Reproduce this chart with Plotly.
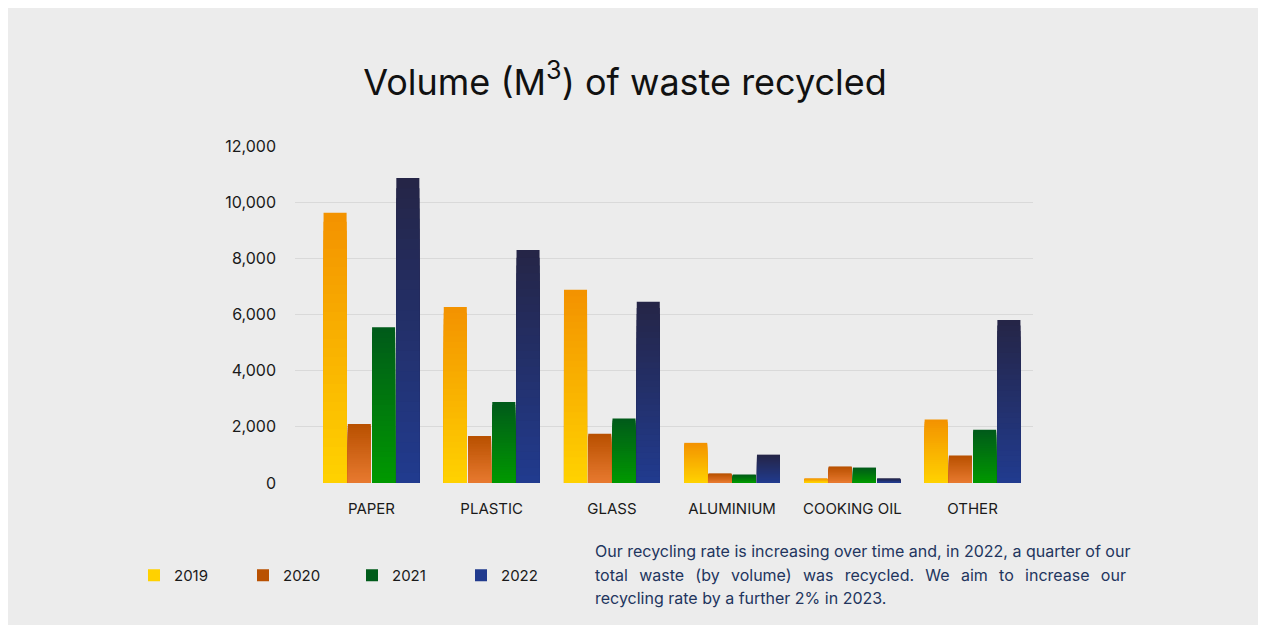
import plotly.graph_objects as go

categories = ["PAPER", "PLASTIC", "GLASS", "ALUMINIUM", "COOKING OIL", "OTHER"]
years = ["2019", "2020", "2021", "2022"]
v2019 = [9620, 6270, 6880, 1430, 160, 2260]
v2020 = [2100, 1670, 1750, 340, 590, 980]
v2021 = [5550, 2880, 2300, 300, 550, 1900]
v2022 = [10860, 8300, 6450, 1010, 160, 5800]
y_ticks = [0, 2000, 4000, 6000, 8000, 10000, 12000]
note_lines = [
    "Our recycling rate is increasing over time and, in 2022, a quarter of our",
    "total waste (by volume) was recycled. We aim to increase our",
    "recycling rate by a further 2% in 2023.",
]

series = [v2019, v2020, v2021, v2022]
# gradient (top colour, bottom colour) and which end is shown in legend
grad = [((243, 146, 0), (255, 210, 0), "bottom"),
        ((184, 80, 0), (232, 122, 48), "top"),
        ((0, 90, 26), (0, 153, 0), "top"),
        ((37, 37, 70), (33, 59, 143), "bottom")]
N = 30

# plot area in figure pixels
L, R, T, B = 287, 1025, 138, 475
W, H = 1266, 625
PW, PH = R - L, B - T


def mix(a, b, t):
    return "rgb(%d,%d,%d)" % tuple(round(a[k] + (b[k] - a[k]) * t) for k in range(3))


def px_x(x):
    return (x - L) / PW


def px_y(y):
    return (B - y) / PH


fig = go.Figure()
for yi, (yr, vals, (top, bot, leg)) in enumerate(zip(years, series, grad)):
    for i in range(N):
        frac = (N - i) / N
        t = (i + 0.5) / N
        show = (leg == "top" and i == 0) or (leg == "bottom" and i == N - 1)
        fig.add_trace(go.Bar(
            x=categories, y=[v * frac for v in vals],
            name=yr, legendgroup=yr, showlegend=show, offsetgroup=yr,
            marker=dict(color=mix(top, bot, t), line=dict(width=0)),
            hoverinfo="skip" if not show else None,
        ))

BG = "#ececec"
justify_sep = " \u2004\u200a"
annotations = []
for k, (line, yc) in enumerate(zip(note_lines, [543, 567, 590])):
    txt = line.replace(" ", justify_sep) if k == 1 else line
    annotations.append(dict(text=txt, xref="paper", yref="paper",
                            x=px_x(585), y=px_y(yc),
                            xanchor="left", yanchor="middle", align="left",
                            showarrow=False,
                            font=dict(size=16, color="#22355e")))

fig.update_layout(
    width=W, height=625,
    paper_bgcolor=BG, plot_bgcolor=BG,
    margin=dict(l=L, r=W - R, t=T, b=H - B),
    barmode="group", bargap=0.193, bargroupgap=0.05,
    font=dict(family="Inter, Roboto, sans-serif", color="#1a1a1a"),
    title=dict(text="Volume (M<sup>3</sup>) of waste recycled",
               x=617 / W, xref="container", xanchor="center",
               y=1 - 74 / H, yref="container", yanchor="middle",
               font=dict(size=36, color="#111111")),
    xaxis=dict(type="category", range=[-0.636, 5.503], showgrid=False,
               zeroline=False, showline=False, ticks="", ticklabelstandoff=15,
               tickfont=dict(size=15, color="#1a1a1a")),
    yaxis=dict(range=[0, 12000], tickvals=y_ticks, tickformat=",d",
               gridcolor="#d9d9d9", gridwidth=1, zeroline=False,
               showline=False, ticks="", ticklabelstandoff=18,
               tickfont=dict(size=16, color="#1a1a1a")),
    legend=dict(orientation="h", x=-161 / PW, xanchor="left",
                y=-76 / PH, yanchor="top",
                entrywidth=64, entrywidthmode="pixels",
                font=dict(size=15, color="#1a1a1a"), bgcolor="rgba(0,0,0,0)",
                traceorder="normal"),
    annotations=annotations,
    hovermode="closest",
)

fig.write_html("out.html")
